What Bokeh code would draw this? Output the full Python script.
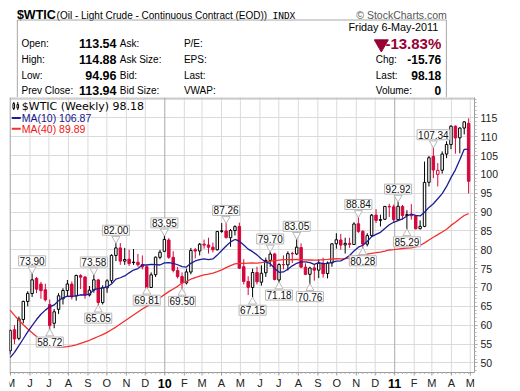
import pandas as pd
from bokeh.plotting import figure
from bokeh.layouts import column
from bokeh.models import Range1d, FixedTicker, ColumnDataSource
from bokeh.core.properties import value
from bokeh.embed import file_html
from bokeh.resources import INLINE

# ---------------- data (weekly bars, week ending 2009-05-08 .. 2011-05-06) ----------------
week_ending = pd.date_range("2009-05-08", "2011-05-06", freq="W-FRI")

opens = [53.20, 58.80, 56.50, 61.50, 66.30, 68.40, 72.40, 70.90, 69.40, 65.50,
         60.50, 64.20, 67.00, 69.20, 70.90, 67.80, 73.20, 72.80, 68.00, 69.30,
         72.00, 66.00, 69.90, 71.80, 78.50, 80.50, 77.00, 77.50, 76.60, 76.70,
         76.10, 75.50, 70.00, 73.40, 78.00, 79.60, 82.60, 78.00, 74.50, 72.90,
         71.20, 74.10, 80.00, 79.70, 81.50, 81.30, 80.70, 80.00, 85.00, 85.00,
         83.20, 85.10, 86.20, 75.50, 71.60, 70.00, 74.00, 71.40, 73.90, 77.20,
         78.90, 72.00, 76.10, 76.00, 79.00, 78.90, 80.60, 75.40, 73.50, 75.20,
         74.60, 76.40, 73.70, 76.50, 81.60, 82.60, 81.30, 81.70, 81.40, 86.90,
         84.90, 81.50, 83.80, 89.20, 87.80, 88.10, 91.50, 91.40, 88.00, 91.50,
         89.10, 89.30, 89.00, 85.60, 86.20, 97.90, 104.80, 100.00, 101.10, 105.40,
         107.90, 112.80, 109.70, 112.30, 113.54]
highs = [58.80, 60.00, 62.30, 66.50, 69.00, 73.90, 72.80, 71.50, 71.00, 66.80,
         64.30, 68.50, 69.80, 72.00, 71.60, 73.40, 73.50, 73.00, 70.40, 73.58,
         72.30, 70.60, 72.20, 78.80, 82.00, 81.80, 80.50, 80.00, 80.20, 78.90,
         78.50, 75.80, 74.00, 78.20, 80.00, 83.95, 83.10, 79.60, 75.50, 74.00,
         75.00, 80.50, 80.50, 81.80, 82.70, 83.20, 81.90, 85.00, 87.10, 87.26,
         85.50, 86.50, 87.20, 77.50, 73.00, 75.00, 75.50, 75.90, 77.90, 79.70,
         79.20, 76.40, 78.50, 79.60, 79.50, 83.05, 81.70, 76.40, 75.50, 76.10,
         77.50, 77.90, 76.90, 81.80, 84.40, 84.20, 83.20, 83.20, 87.30, 88.84,
         85.20, 84.40, 89.50, 90.80, 89.30, 91.60, 92.20, 92.00, 92.92, 91.90,
         90.50, 92.10, 89.20, 87.80, 103.40, 104.90, 107.34, 103.00, 106.10, 108.80,
         113.00, 113.00, 112.50, 114.10, 114.88]
lows = [52.30, 55.00, 56.00, 60.50, 65.00, 67.50, 68.50, 67.00, 66.30, 58.72,
        59.20, 63.00, 65.50, 67.50, 66.80, 66.50, 69.60, 67.00, 67.60, 68.60,
        65.05, 65.50, 68.60, 71.20, 77.00, 76.00, 76.00, 75.70, 76.00, 75.50,
        74.80, 69.81, 69.90, 72.80, 77.50, 79.40, 77.60, 74.00, 72.40, 69.50,
        70.80, 73.50, 77.70, 78.50, 80.30, 79.00, 79.30, 79.80, 84.50, 83.00,
        80.80, 83.80, 74.90, 70.80, 68.00, 67.15, 70.80, 70.50, 72.80, 75.50,
        71.90, 71.18, 74.80, 74.50, 76.50, 78.60, 75.20, 73.40, 70.76, 71.80,
        72.50, 72.60, 72.40, 75.50, 80.30, 80.00, 79.00, 80.50, 81.30, 84.50,
        80.28, 80.90, 83.40, 87.10, 86.20, 87.90, 88.70, 87.40, 87.80, 88.00,
        85.29, 88.00, 85.40, 85.40, 86.00, 96.80, 99.00, 96.80, 100.20, 104.30,
        106.70, 105.50, 105.60, 110.60, 94.96]
closes = [58.63, 56.34, 61.67, 66.31, 68.44, 72.04, 69.55, 69.16, 66.73, 59.89,
          63.56, 67.80, 69.20, 70.93, 67.51, 73.20, 72.74, 68.02, 69.29, 72.04,
          66.02, 69.95, 71.77, 78.53, 80.50, 77.00, 77.43, 76.35, 76.72, 76.05,
          75.47, 69.87, 73.36, 78.05, 79.36, 82.75, 78.00, 74.54, 72.89, 71.19,
          74.13, 79.81, 79.66, 81.50, 81.24, 80.68, 80.00, 84.87, 84.92, 83.24,
          85.12, 86.15, 75.11, 71.61, 70.04, 73.97, 71.51, 73.78, 77.18, 78.86,
          72.14, 76.09, 76.01, 78.98, 78.95, 80.70, 75.39, 73.46, 75.17, 74.60,
          76.45, 73.66, 76.49, 81.58, 82.66, 81.25, 81.69, 81.43, 86.85, 84.88,
          81.51, 83.76, 89.19, 87.79, 88.02, 91.51, 91.38, 88.03, 91.54, 89.11,
          89.34, 89.03, 85.58, 86.20, 97.88, 104.42, 101.16, 101.07, 105.40, 107.94,
          112.79, 109.66, 112.29, 113.94, 98.18]

# moving-average values for the weeks before enough bars are shown
ma10_head = [51.4, 52.8, 54.6, 56.4, 58.2, 59.9, 61.5, 62.9, 64.0]
ma40_head = [64.0, 62.6, 61.3, 60.1, 59.0, 58.0, 57.0, 56.1, 55.4, 54.8,
             54.4, 54.2, 54.2, 54.3, 54.5, 54.8, 55.2, 55.6, 56.0, 56.5,
             57.0, 57.5, 58.1, 58.8, 59.5, 60.3, 61.1, 61.9, 62.7, 63.5,
             64.3, 65.0, 65.7, 66.5, 67.3, 68.1, 68.9, 69.6, 70.3]

# swing-point callouts: (bar index, value)
peak_idx = [5, 19, 24, 35, 49, 59, 65, 79, 88, 96]
peak_val = [73.90, 73.58, 82.00, 83.95, 87.26, 79.70, 83.05, 88.84, 92.92, 107.34]
trough_idx = [9, 20, 31, 39, 55, 61, 68, 80, 90]
trough_val = [58.72, 65.05, 69.81, 69.50, 67.15, 71.18, 70.76, 80.28, 85.29]

month_starts = pd.date_range("2009-05-01", "2011-05-01", freq="MS")
month_labels = ["M", "J", "J", "A", "S", "O", "N", "D", "10", "F", "M", "A", "M",
                "J", "J", "A", "S", "O", "N", "D", "11", "F", "M", "A", "M"]
y_ticks = [50, 55, 60, 65, 70, 75, 80, 85, 90, 95, 100, 105, 110, 115]

# ---------------- derived ----------------
wk = [(d - week_ending[0]).days / 7.0 for d in week_ending]
GRID_SHIFT = 1.09  # StockCharts draws month lines about one bar to the right
mt = [(d - week_ending[0]).days / 7.0 + GRID_SHIFT for d in month_starts]
year_pos = [m for m, l in zip(mt, month_labels) if l.isdigit()]
year_txt = [l for l in month_labels if l.isdigit()]
mon_pos = [m for m, l in zip(mt, month_labels) if not l.isdigit()]
mon_txt = [l for l in month_labels if not l.isdigit()]

RED = "#D4083C"
prev = [opens[0]] + closes[:-1]
col = [RED if c < pc else "black" for c, pc in zip(closes, prev)]
fill = ["white" if c > o else cc for c, o, cc in zip(closes, opens, col)]
top = [max(o, c) for o, c in zip(opens, closes)]
bot = [min(o, c) for o, c in zip(opens, closes)]

ma10 = [ma10_head[i] if i < 9 else sum(closes[i - 9:i + 1]) / 10 for i in range(len(closes))]
ma40 = [ma40_head[i] if i < 39 else sum(closes[i - 39:i + 1]) / 40 for i in range(len(closes))]

src = ColumnDataSource(dict(x=wk, o=opens, h=highs, l=lows, c=closes, top=top, bot=bot,
                            col=col, fill=fill, ma10=ma10, ma40=ma40))

# ---------------- layout constants ----------------
W = 504
HEADER_H = 97
CHART_H = 292
PLOT_H = 275            # height of the price area; the rest holds the month labels
BL, BR = 9, 30
x0, x1 = -0.13, 105.33
y0, y1 = 47.45, 120.4
FRAME_W = W - BL - BR
ppw = FRAME_W / (x1 - x0)
ppu = PLOT_H / (y1 - y0)
yb = y0 - (CHART_H - PLOT_H) / ppu

LS = value("Liberation Sans")
GRID = "#dadada"
AXC = "#9c9c9c"

# ---------------- header ----------------
h = figure(width=W, height=HEADER_H, x_range=Range1d(0, W), y_range=Range1d(HEADER_H, 0),
           output_backend="svg", toolbar_location=None, min_border=0,
           x_axis_location=None, y_axis_location=None)
h.outline_line_color = None
h.grid.visible = False


def t(fig, x, y, s, size, color="#000000", bold=False, align="left", font=LS, base="middle"):
    fig.text(x=[x], y=[y], text=[s], text_font=font, text_font_size=f"{size}px",
             text_font_style="bold" if bold else "normal", text_color=color,
             text_align=align, text_baseline=base)


t(h, 8, 14.8, "$WTIC", 12.5, bold=True, base="alphabetic")
t(h, 51, 14.8, "(Oil - Light Crude - Continuous Contract (EOD))", 10, base="alphabetic")
t(h, 285, 14.8, "INDX", 9.5, font=value("DejaVu Sans Mono"), base="alphabetic")
t(h, 474, 14.8, "\u00a9 StockCharts.com", 10.5, color="#555555", align="right", base="alphabetic")

h.segment(x0=[8.5, 473.5, 8.5], y0=[19.5, 19.5, 19.5], x1=[8.5, 473.5, 473.5], y1=[97, 97, 19.5],
          line_color="#a6a6a6", line_width=1)

rows = [42.5, 58.8, 74.6, 89.6]
for y, a, v, b, c in zip(rows, ["Open:", "High:", "Low:", "Prev Close:"],
                         ["113.54", "114.88", "94.96", "113.94"],
                         ["Ask:", "Ask Size:", "Bid:", "Bid Size:"],
                         ["P/E:", "EPS:", "Last:", "VWAP:"]):
    t(h, 13, y, a, 10)
    t(h, 116, y, v, 12.5, bold=True, align="right")
    t(h, 119.5, y, b, 10)
    t(h, 189, y, c, 10)

t(h, 468, 26.5, "Friday  6-May-2011", 10.8, align="right")
h.scatter(x=[403], y=[43.4], marker="inverted_triangle", size=14, color="#990033")
t(h, 468, 43.0, "-13.83%", 15, color="#990033", bold=True, align="right")
for y, a, v in zip(rows[1:], ["Chg:", "Last:", "Volume:"], ["-15.76", "98.18", "0"]):
    t(h, 397, y, a, 10)
    t(h, 468, y, v, 12, bold=True, align="right")

# ---------------- chart ----------------
p = figure(width=W, height=CHART_H, x_range=Range1d(x0, x1), y_range=Range1d(yb, y1),
           output_backend="svg", toolbar_location=None, y_axis_location="right",
           x_axis_location=None,
           min_border_left=BL, min_border_right=BR, min_border_top=0, min_border_bottom=0)
p.outline_line_color = None
p.background_fill_color = "white"

ya = p.yaxis[0]
ya.bounds = (y0, y1)
ya.ticker = FixedTicker(ticks=y_ticks, minor_ticks=list(range(48, 121)))
ya.axis_line_color = AXC
ya.major_tick_line_color = AXC
ya.minor_tick_line_color = "#b4b4b4"
ya.major_tick_out = 3
ya.major_tick_in = 0
ya.minor_tick_out = 2
ya.minor_tick_in = 0
ya.major_label_standoff = 3
ya.major_label_text_font = "Liberation Sans"
ya.major_label_text_font_size = "10.5px"
ya.major_label_text_color = "#222222"

p.ygrid.ticker = FixedTicker(ticks=y_ticks + [120])
p.ygrid.grid_line_color = GRID
p.xgrid.grid_line_color = None

# month grid lines, plot edges, time axis
p.segment(x0=mon_pos, y0=[y0] * len(mon_pos), x1=mon_pos, y1=[y1] * len(mon_pos),
          line_color=GRID)
p.segment(x0=year_pos, y0=[y0] * len(year_pos), x1=year_pos, y1=[y1] * len(year_pos),
          line_color="#a9a9a9")
p.segment(x0=[x0 + 0.5 / ppw, x0, x0], y0=[y0, y1 - 0.5 / ppu, y0],
          x1=[x0 + 0.5 / ppw, x1, x1], y1=[y1, y1 - 0.5 / ppu, y0], line_color=AXC)
p.segment(x0=wk, y0=[y0] * len(wk), x1=wk, y1=[y0 - 1.5 / ppu] * len(wk), line_color="#b4b4b4")
p.segment(x0=mt, y0=[y0] * len(mt), x1=mt, y1=[y0 - 3 / ppu] * len(mt), line_color=AXC)
p.text(x=mon_pos, y=[y0 - 10.5 / ppu] * len(mon_pos), text=mon_txt, text_font=LS,
       text_font_size="11px", text_align="center", text_baseline="middle", text_color="#222222")
p.text(x=year_pos, y=[y0 - 10.5 / ppu] * len(year_pos), text=year_txt, text_font=LS,
       text_font_size="12.5px", text_font_style="bold", text_align="center",
       text_baseline="middle", text_color="#000000")

# candles
p.segment(x0="x", y0="l", x1="x", y1="h", source=src, line_color="col", line_width=1)
p.vbar(x="x", width=0.56, top="top", bottom="bot", source=src,
       fill_color="fill", line_color="col", line_width=1)

# moving averages
p.line("x", "ma40", source=src, line_color="#F2302E", line_width=1.3)
p.line("x", "ma10", source=src, line_color="#1C1C96", line_width=1.3)

# callouts
pk = ColumnDataSource(dict(x=[wk[i] for i in peak_idx], y=peak_val,
                           yp=[v + 3.5 / ppu for v in peak_val],
                           t=[f"{v:.2f}" for v in peak_val]))
tr = ColumnDataSource(dict(x=[wk[i] for i in trough_idx], y=trough_val,
                           yp=[v - 3.5 / ppu for v in trough_val],
                           t=[f"{v:.2f}" for v in trough_val]))
p.scatter("x", "yp", source=pk, marker="inverted_triangle", size=8,
          fill_color="white", line_color="#b8b8b8")
p.scatter("x", "yp", source=tr, marker="triangle", size=8,
          fill_color="white", line_color="#b8b8b8")
for s, off in ((pk, -12), (tr, 12)):
    p.text("x", "y", text="t", source=s, y_offset=off, text_align="center",
           text_baseline="middle", text_font=LS, text_font_size="10px", text_color="#111111",
           background_fill_color="white", border_line_color="#b8b8b8", padding=1)


# legend (top-left inside the plot); positions given in reference pixels
def X(px):
    return (px - 17.3) / 4.409


def Y(py):
    return 115 - (py - 118.3) / 3.77


p.segment(x0=[X(21), X(25)], y0=[Y(110.5), Y(110.5)], x1=[X(21), X(25)], y1=[Y(102.5), Y(102.5)],
          line_color="black")
p.vbar(x=[X(21), X(25)], width=1.6 / ppw, top=[Y(104), Y(105)], bottom=[Y(109), Y(108.5)],
       fill_color="white", line_color="black")
p.text(x=[X(29)], y=[Y(107)], text=["$WTIC (Weekly) 98.18"], text_font=value("DejaVu Sans"),
       text_font_size="11px", text_baseline="middle", text_color="#000000")
p.segment(x0=[X(19), X(19)], y0=[Y(118.5), Y(129.2)], x1=[X(28), X(28)], y1=[Y(118.5), Y(129.2)],
          line_color=["#1C1C96", "#F2302E"], line_width=2)
p.text(x=[X(29), X(29)], y=[Y(118.5), Y(129.2)], text=["MA(10) 106.87", "MA(40) 89.89"],
       text_font=LS, text_font_size="10.5px", text_baseline="middle",
       text_color=["#14148C", "#F21414"])

layout = column(h, p, spacing=0)
open("out.html", "w").write(file_html(layout, INLINE, "WTIC"))
